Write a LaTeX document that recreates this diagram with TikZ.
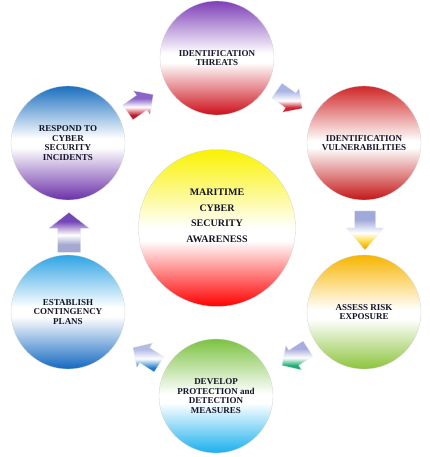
\documentclass[tikz,border=0pt]{standalone}
\usepackage{fontspec}
\setmainfont{Liberation Serif}
\usetikzlibrary{calc}
\definecolor{txt}{HTML}{141428}
\definecolor{thrTop}{HTML}{7E3FB8}
\definecolor{thrBot}{HTML}{CC0F1A}
\definecolor{vulTop}{HTML}{D02626}
\definecolor{vulBot}{HTML}{C41616}
\definecolor{resTop}{HTML}{1A6FC0}
\definecolor{resBot}{HTML}{6A30A8}
\definecolor{cenTop}{HTML}{FAF200}
\definecolor{cenBot}{HTML}{FF0000}
\definecolor{assTop}{HTML}{F7B500}
\definecolor{assBot}{HTML}{8CC43C}
\definecolor{devTop}{HTML}{7CC242}
\definecolor{devBot}{HTML}{1AB0EE}
\definecolor{estTop}{HTML}{2FA4E5}
\definecolor{estBot}{HTML}{1268C0}
\definecolor{aOneTop}{HTML}{8A64C8}
\definecolor{aOneBot}{HTML}{C0182A}
\definecolor{aTwoTop}{HTML}{A8B4E4}
\definecolor{aTwoBot}{HTML}{CE2030}
\definecolor{aThrTop}{HTML}{A0AADA}
\definecolor{aThrMid}{HTML}{FFE060}
\definecolor{aThrBot}{HTML}{F5B000}
\definecolor{aFouTop}{HTML}{A8ACDE}
\definecolor{aFouBot}{HTML}{1FAE74}
\definecolor{aFivTop}{HTML}{B4BCE4}
\definecolor{aFivBot}{HTML}{1E78CC}
\definecolor{aSixTop}{HTML}{7446B8}
\definecolor{aSixBot}{HTML}{A4A8D2}
\pgfdeclareverticalshading{shThr}{100bp}{color(0bp)=(thrBot); color(25bp)=(thrBot); color(48bp)=(white); color(52bp)=(white); color(75bp)=(thrTop); color(100bp)=(thrTop)}
\pgfdeclareverticalshading{shVul}{100bp}{color(0bp)=(vulBot); color(25bp)=(vulBot); color(48bp)=(white); color(51bp)=(white); color(75bp)=(vulTop); color(100bp)=(vulTop)}
\pgfdeclareverticalshading{shRes}{100bp}{color(0bp)=(resBot); color(25bp)=(resBot); color(48bp)=(white); color(52bp)=(white); color(75bp)=(resTop); color(100bp)=(resTop)}
\pgfdeclareverticalshading{shCen}{100bp}{color(0bp)=(cenBot); color(25bp)=(cenBot); color(46bp)=(white); color(50bp)=(white); color(75bp)=(cenTop); color(100bp)=(cenTop)}
\pgfdeclareverticalshading{shAss}{100bp}{color(0bp)=(assBot); color(25bp)=(assBot); color(47bp)=(white); color(51bp)=(white); color(75bp)=(assTop); color(100bp)=(assTop)}
\pgfdeclareverticalshading{shDev}{100bp}{color(0bp)=(devBot); color(25bp)=(devBot); color(47bp)=(white); color(51bp)=(white); color(75bp)=(devTop); color(100bp)=(devTop)}
\pgfdeclareverticalshading{shEst}{100bp}{color(0bp)=(estBot); color(25bp)=(estBot); color(48bp)=(white); color(52bp)=(white); color(75bp)=(estTop); color(100bp)=(estTop)}
\pgfdeclareverticalshading{shAOne}{100bp}{color(0bp)=(aOneBot); color(33bp)=(aOneBot); color(47bp)=(white); color(62bp)=(aOneTop); color(100bp)=(aOneTop)}
\pgfdeclareverticalshading{shATwo}{100bp}{color(0bp)=(aTwoBot); color(33bp)=(aTwoBot); color(45bp)=(white); color(62bp)=(aTwoTop); color(100bp)=(aTwoTop)}
\pgfdeclareverticalshading{shAThr}{100bp}{color(0bp)=(aThrBot); color(29bp)=(aThrBot); color(38bp)=(aThrMid); color(47bp)=(white); color(64bp)=(aThrTop); color(100bp)=(aThrTop)}
\pgfdeclareverticalshading{shAFou}{100bp}{color(0bp)=(aFouBot); color(33bp)=(aFouBot); color(46bp)=(white); color(62bp)=(aFouTop); color(100bp)=(aFouTop)}
\pgfdeclareverticalshading{shAFiv}{100bp}{color(0bp)=(aFivBot); color(32bp)=(aFivBot); color(48bp)=(white); color(64bp)=(aFivTop); color(100bp)=(aFivTop)}
\pgfdeclareverticalshading{shASix}{100bp}{color(0bp)=(aSixBot); color(35bp)=(aSixBot); color(47bp)=(white); color(64bp)=(aSixTop); color(100bp)=(aSixTop)}
% block arrow: #1 centre, #2 angle, #3 length, #4 head width, #5 shaft width, #6 head length, #7 style
\newcommand{\blockarr}[7]{%
  \path[#7] ($(#1)+(#2:#3/2)$)
    -- ($(#1)+(#2:#3/2-#6)+(#2+90:#4/2)$)
    -- ($(#1)+(#2:#3/2-#6)+(#2+90:#5/2)$)
    -- ($(#1)+(#2:-#3/2)+(#2+90:#5/2)$)
    -- ($(#1)+(#2:-#3/2)+(#2-90:#5/2)$)
    -- ($(#1)+(#2:#3/2-#6)+(#2-90:#5/2)$)
    -- ($(#1)+(#2:#3/2-#6)+(#2-90:#4/2)$)
    -- cycle;}
\begin{document}
\begin{tikzpicture}[x=1pt,y=1pt,
  disc/.style={circle, inner sep=0pt, minimum size=114pt, shade, draw=black!18, line width=0.3pt,
    font=\fontsize{9}{9.6}\selectfont\bfseries, text=txt, align=center},
  bigdisc/.style={disc, minimum size=157pt},
  bigtext/.style={inner sep=0pt, font=\fontsize{10}{15.5}\selectfont\bfseries, text=txt, align=center},
  arr/.style={shade, draw=black!8, line width=0.2pt, line join=round}]
\useasboundingbox[fill=white] (0,0) rectangle (430,457);
\node[disc, shading=shThr] (T) at (217,399) {IDENTIFICATION\\THREATS};
\node[disc, shading=shVul] (V) at (364,314) {IDENTIFICATION\\VULNERABILITIES};
\node[disc, shading=shAss] (A) at (364,145) {ASSESS RISK\\EXPOSURE};
\node[disc, shading=shDev] (D) at (216,61) {DEVELOP\\PROTECTION and\\DETECTION\\MEASURES};
\node[disc, shading=shEst] (E) at (68,145) {ESTABLISH\\CONTINGENCY\\PLANS};
\node[disc, shading=shRes] (R) at (68,314) {RESPOND TO\\CYBER\\SECURITY\\INCIDENTS};
\node[bigdisc, shading=shCen] (C) at (217,229) {};
\node[bigtext] (Ct) at ($(C)+(0,12)$) {MARITIME\\CYBER\\SECURITY\\AWARENESS};
% arrow centres
\coordinate (a1) at ($(R)!0.5!(T)+(-2,-3)$);
\coordinate (a2) at ($(T)!0.5!(V)+(-1,1)$);
\coordinate (a3) at ($(V)!0.5!(A)+(1,-3)$);
\coordinate (a4) at ($(A)!0.5!(D)+(5,-3)$);
\coordinate (a5) at ($(D)!0.5!(E)+(4,-2)$);
\coordinate (a6) at ($(E)!0.5!(R)+(1,-5)$);
\blockarr{a1}{35}{31}{29}{18}{14}{arr, shading=shAOne}
\blockarr{a2}{-35}{31}{29}{18}{14}{arr, shading=shATwo}
\blockarr{a3}{-90}{39}{37}{21}{22}{arr, shading=shAThr}
\blockarr{a4}{213}{31}{29}{18}{14}{arr, shading=shAFou}
\blockarr{a5}{147}{31}{29}{18}{14}{arr, shading=shAFiv}
\blockarr{a6}{90}{40}{41}{23}{16}{arr, shading=shASix}
\end{tikzpicture}
\end{document}
